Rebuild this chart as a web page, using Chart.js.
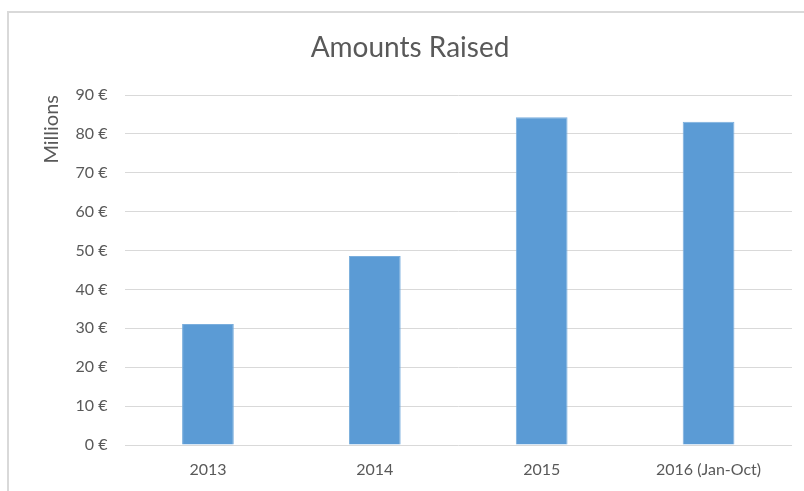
<!DOCTYPE html>
<html>
<head>
<meta charset="utf-8">
<script src="https://cdn.jsdelivr.net/npm/chart.js@4"></script>
<style>
html,body{margin:0;padding:0;background:#fff;}
#wrap{position:relative;width:804px;height:491px;}
</style>
</head>
<body>
<div id="wrap"><canvas id="c" width="804" height="491"></canvas></div>
<script>
const categories = ["2013", "2014", "2015", "2016 (Jan-Oct)"];
const amounts = [31.1, 48.6, 84.3, 83.1];
const yTicks = [0, 10, 20, 30, 40, 50, 60, 70, 80, 90];
const chartTitle = "Amounts Raised";
const yTitle = "Millions";

const FONT = "Lato, 'Open Sans', sans-serif";
const TXT = "#595959";

const framePlugin = {
  id: 'frame',
  beforeDraw(chart) {
    const ctx = chart.ctx;
    ctx.save();
    ctx.fillStyle = '#fff';
    ctx.fillRect(0, 0, chart.width, chart.height);
    ctx.strokeStyle = '#d9d9d9';
    ctx.lineWidth = 2;
    ctx.beginPath();
    ctx.moveTo(8, chart.height);
    ctx.lineTo(8, 12);
    ctx.lineTo(chart.width, 12);
    ctx.stroke();
    ctx.restore();
  }
};

new Chart(document.getElementById('c'), {
  type: 'bar',
  data: {
    labels: categories,
    datasets: [{
      data: amounts,
      backgroundColor: '#5B9BD5',
      borderColor: '#7aaedd',
      borderWidth: 1,
      barPercentage: 0.31,
      categoryPercentage: 1.0
    }]
  },
  options: {
    responsive: false,
    animation: false,
    layout: { padding: { left: 28, right: 12, top: 12, bottom: 8 } },
    plugins: {
      legend: { display: false },
      tooltip: { enabled: false },
      title: {
        display: true,
        text: chartTitle,
        color: TXT,
        font: { family: FONT, size: 28, weight: 'normal' },
        padding: { top: 19, bottom: 30.4 }
      }
    },
    scales: {
      x: {
        grid: { display: false, drawTicks: false },
        border: { display: false },
        ticks: { color: TXT, font: { family: FONT, size: 16 }, padding: 15 },
        afterFit(s) { s.height = 38; }
      },
      y: {
        min: 0, max: 90,
        afterBuildTicks(s) { s.ticks = yTicks.map(v => ({ value: v })); },
        grid: { color: '#d9d9d9', lineWidth: 1, drawTicks: false },
        border: { display: false },
        ticks: {
          color: TXT, font: { family: FONT, size: 16 }, padding: 17,
          callback: v => v + ' €'
        },
        title: {
          display: true, text: yTitle, align: 'end', color: TXT,
          font: { family: FONT, size: 20 }, padding: { top: 12, bottom: 0 }
        },
        afterFit(s) { s.width = 96.5; }
      }
    }
  },
  plugins: [framePlugin]
});
</script>
</body>
</html>
